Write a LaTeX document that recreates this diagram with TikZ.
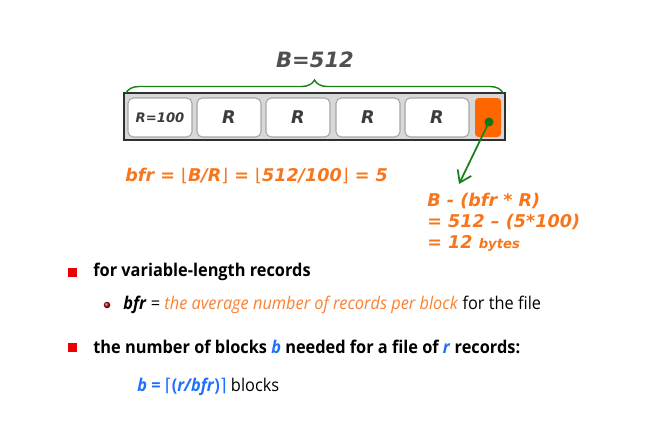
\documentclass[tikz,border=0pt]{standalone}
\usepackage{fontspec}
\setmainfont{Open Sans}[FakeStretch=0.93]
\newfontfamily\comicfont{DejaVu Sans}
\newfontfamily\symfont{DejaVu Sans}
\usetikzlibrary{positioning,decorations.pathreplacing,arrows.meta,shadings}
\definecolor{calcOrange}{RGB}{247,118,28}
\definecolor{textOrange}{RGB}{250,128,50}
\definecolor{slackOrange}{RGB}{255,102,0}
\definecolor{braceGreen}{RGB}{24,128,24}
\definecolor{varBlue}{RGB}{32,112,255}
\definecolor{bulletRed}{RGB}{236,0,0}
\definecolor{blockGrey}{RGB}{216,216,216}
\definecolor{recGrey}{RGB}{60,60,60}
\newcommand{\lfl}{{\symfont\fontseries{m}\fontshape{n}\selectfont⌊}}
\newcommand{\rfl}{{\symfont\fontseries{m}\fontshape{n}\selectfont⌋}}
\newcommand{\lce}{{\symfont\fontseries{m}\fontshape{n}\selectfont⌈}}
\newcommand{\rce}{{\symfont\fontseries{m}\fontshape{n}\selectfont⌉}}

\tikzset{
  blockbox/.style={draw=recGrey!80!black, line width=1.3pt, fill=blockGrey,
    minimum width=7.62cm, minimum height=0.94cm, inner sep=0pt},
  recbox/.style={draw=gray!70, fill=white, rounded corners=3pt, line width=0.6pt,
    minimum width=1.28cm, minimum height=0.78cm, inner sep=0pt,
    font=\comicfont\bfseries\itshape\fontsize{10}{12}\selectfont, text=recGrey},
  slackbox/.style={fill=slackOrange, rounded corners=2pt,
    minimum width=0.52cm, minimum height=0.78cm, inner sep=0pt},
  calc/.style={font=\comicfont\bfseries\itshape\fontsize{10}{12}\selectfont,
    text=calcOrange, inner sep=0pt},
  square/.style={fill=bulletRed, minimum size=0.18cm, inner sep=0pt},
  ball/.style={circle, ball color=red!70!black, minimum size=0.13cm, inner sep=0pt},
  item/.style={font=\fontsize{10}{12}\selectfont\bfseries, anchor=west, inner sep=0pt},
  subitem/.style={font=\fontsize{10}{12}\selectfont, anchor=west, inner sep=0pt}
}

\begin{document}
\begin{tikzpicture}[x=0.02cm, y=-0.02cm]
  \useasboundingbox (0,0) rectangle (661,424);
  % block with records
  \node[blockbox] (block) at (314.5,116.5) {};
  \node[recbox, font=\comicfont\bfseries\itshape\fontsize{7.5}{9}\selectfont] (rec0) at (160,117.5) {R=100};
  \node[recbox] (rec1) at (229,117.5) {R};
  \node[recbox] (rec2) at (298,117.5) {R};
  \node[recbox] (rec3) at (368,117.5) {R};
  \node[recbox] (rec4) at (437,117.5) {R};
  \node[slackbox] (slack) at (488,117.5) {};
  % block size
  \draw[braceGreen, line width=0.8pt, decorate, decoration={brace, amplitude=0.26cm}]
    (126,93) -- (503,93) coordinate[midway] (bracemid);
  \node[font=\comicfont\bfseries\itshape\fontsize{12}{14}\selectfont, text=recGrey!90]
    (bsize) at (315,60) {B=512};
  % unused space
  \fill[braceGreen!90!black] (489,122) circle (0.09cm) coordinate (dot);
  \coordinate (tip) at (459,184);
  \draw[braceGreen, line width=1pt, -{Straight Barb[length=0.22cm, width=0.3cm]}] (dot) -- (tip);
  \node[calc, anchor=west] (bfr) at (125,176) {bfr = \lfl B/R\rfl\ = \lfl 512/100\rfl\ = 5};
  \node[calc, anchor=north west, align=left] (waste) at (427,193)
    {B - (bfr * R)\\= 512 – (5*100)\\= 12 {\fontsize{7.5}{12}\selectfont bytes}};
  % bullets
  \node[square] (sq1) at (72,272) {};
  \node[item] (var) at (93,272) {for variable-length records};
  \node[ball] (dot1) at (107,305) {};
  \node[subitem] (avg) at (123,305) {\textbf{\textit{bfr}} = \textcolor{textOrange}{\textit{the average number of records per block}} for the file};
  \node[square] (sq2) at (72,347) {};
  \node[item] (num) at (93,347) {the number of blocks \textcolor{varBlue}{\textit{b}} needed for a file of \textcolor{varBlue}{\textit{r}} records:};
  \node[subitem] (blocks) at (137,387) {\textcolor{varBlue}{\textbf{\textit{b} = \lce(\textit{r/bfr})\rce}} blocks};
\end{tikzpicture}
\end{document}
